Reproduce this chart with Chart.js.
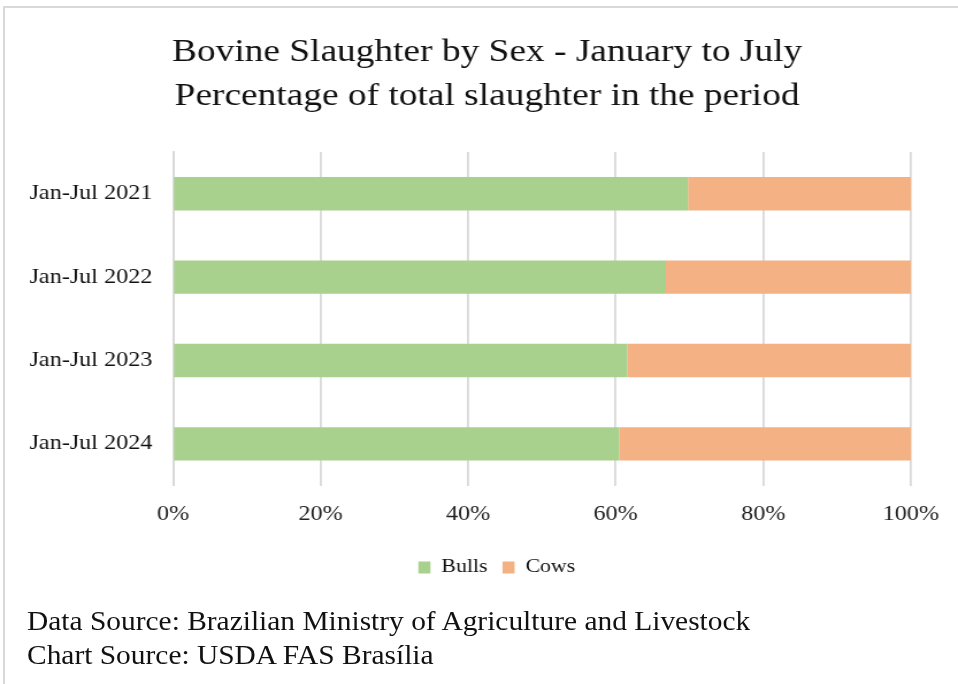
<!DOCTYPE html>
<html>
<head>
<meta charset="utf-8">
<script src="https://cdn.jsdelivr.net/npm/chart.js@4/dist/chart.umd.min.js"></script>
<style>
    html, body { margin: 0; padding: 0; background: #fff; }
    #wrap { position: relative; width: 958px; height: 684px; overflow: hidden; }
    #frame {
        position: absolute; left: 3px; top: 6px; width: 960px; height: 700px;
        border-left: 2px solid #d9d9d9; border-top: 2px solid #d9d9d9;
    }
    /* the drawing buffer is narrower than the box, so the serif text comes out a little wide */
    canvas { position: absolute; left: 0; top: 0; }
    .note {
        position: absolute; left: 27px;
        font-family: "Liberation Serif", "Times New Roman", serif;
        font-size: 27px; color: #111; white-space: nowrap;
        transform: scaleX(1.09); transform-origin: left center;
    }
</style>
</head>
<body>
<div id="wrap">
    <div id="frame"></div>
    <canvas id="myChart" width="833" height="684" style="width: 958px; height: 684px;"></canvas>
    <div class="note" style="top: 606px;">Data Source: Brazilian Ministry of Agriculture and Livestock</div>
    <div class="note" style="top: 640px;">Chart Source: USDA FAS Brasília</div>
</div>
<script>
const periods = ['Jan-Jul 2021', 'Jan-Jul 2022', 'Jan-Jul 2023', 'Jan-Jul 2024'];
const bulls = [69.8, 66.8, 61.6, 60.5];
const cows = [30.2, 33.2, 38.4, 39.5];
const xTicks = ['0%', '20%', '40%', '60%', '80%', '100%'];

const serif = '"Liberation Serif", "Times New Roman", serif';
const ctx = document.getElementById('myChart').getContext('2d');

// title and legend sit a bit right of the padded box, over the bars
const shiftHeaders = {
    id: 'shiftHeaders',
    afterLayout(chart) {
        chart.titleBlock.left = 55;
        chart.legend.left = 72;
    }
};

new Chart(ctx, {
    type: 'bar',
    data: {
        labels: periods,
        datasets: [
            { label: 'Bulls', data: bulls, backgroundColor: '#a9d18e', borderWidth: 0 },
            { label: 'Cows', data: cows, backgroundColor: '#f4b183', borderWidth: 0 }
        ]
    },
    plugins: [shiftHeaders],
    options: {
        indexAxis: 'y',
        responsive: false,
        animation: false,
        devicePixelRatio: 1,
        barPercentage: 0.8,
        categoryPercentage: 0.5,
        layout: { padding: { top: 31, right: 41, left: 10, bottom: 97 } },
        plugins: {
            title: {
                display: true,
                text: ['Bovine Slaughter by Sex - January to July', 'Percentage of total slaughter in the period'],
                color: '#111',
                font: { family: serif, size: 32.5, weight: 'normal', lineHeight: 1.34 },
                padding: { top: 0, bottom: 34 }
            },
            legend: {
                position: 'bottom',
                labels: {
                    color: '#111',
                    font: { family: serif, size: 19 },
                    boxWidth: 10.5,
                    boxHeight: 12,
                    padding: 13
                }
            },
            tooltip: { enabled: false }
        },
        scales: {
            x: {
                stacked: true,
                min: 0,
                max: 100,
                ticks: {
                    stepSize: 20,
                    color: '#222',
                    font: { family: serif, size: 21 },
                    padding: 16,
                    callback: (v, i) => xTicks[i]
                },
                grid: { color: '#d9d9d9', lineWidth: 1.8, drawTicks: false },
                border: { display: false },
                afterFit: s => {
                    s.height = 59.4;
                    s.paddingLeft = 0;
                    s.paddingRight = 0;
                }
            },
            y: {
                stacked: true,
                ticks: {
                    color: '#111',
                    font: { family: serif, size: 21 },
                    padding: 18
                },
                grid: { display: false, drawTicks: false },
                border: { display: true, color: '#d9d9d9', width: 1.8 },
                afterFit: s => { s.width = 140.4; }
            }
        }
    }
});
</script>
</body>
</html>
